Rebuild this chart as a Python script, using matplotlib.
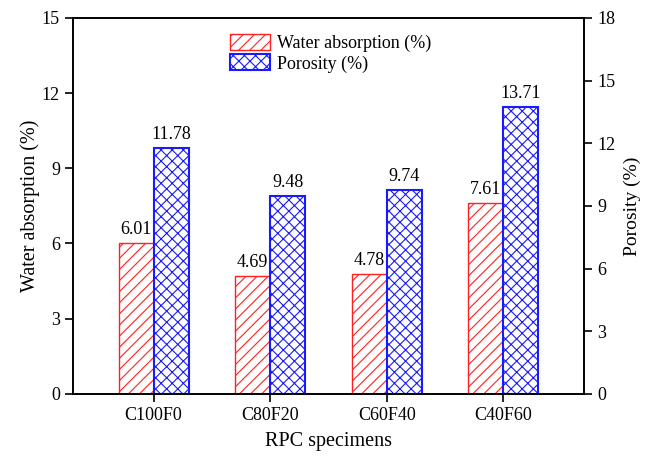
import matplotlib
matplotlib.use('Agg')
import matplotlib.pyplot as plt
import numpy as np

plt.rcParams['font.family'] = ['Liberation Serif', 'DejaVu Serif']
plt.rcParams['hatch.linewidth'] = 0.8

specimens = ['C100F0', 'C80F20', 'C60F40', 'C40F60']
water_absorption = [6.01, 4.69, 4.78, 7.61]
porosity = [11.78, 9.48, 9.74, 13.71]

x = np.arange(len(specimens))
width = 0.3

fig = plt.figure(figsize=(6.53, 4.57), dpi=100)
ax = fig.add_axes([0.112, 0.138, 0.782, 0.823])
ax2 = ax.twinx()

b1 = ax.bar(x - width / 2, water_absorption, width, facecolor='white',
            edgecolor='#ff2020', hatch='///', linewidth=1.0,
            label='Water absorption (%)')
b2 = ax2.bar(x + width / 2, porosity, width, facecolor='white',
             edgecolor='#1a1aff', hatch='xxx', linewidth=1.5,
             label='Porosity (%)')

for xi, v in zip(x, water_absorption):
    ax.text(xi - width / 2, v + 0.2, f'{v:.2f}', ha='center', va='bottom', fontsize=13)
for xi, v in zip(x, porosity):
    ax2.text(xi + width / 2, v + 0.24, f'{v:.2f}', ha='center', va='bottom', fontsize=13)

ax.set_xlim(-0.69, 3.69)
ax.set_ylim(0, 15)
ax2.set_ylim(0, 18)
ax.set_yticks(np.arange(0, 16, 3))
ax2.set_yticks(np.arange(0, 19, 3))
ax.set_xticks(x)
ax.set_xticklabels(specimens)

for a in (ax, ax2):
    a.tick_params(direction='out', length=6, width=1.2, labelsize=13)
    for s in a.spines.values():
        s.set_linewidth(1.2)

ax.set_xlabel('RPC specimens', fontsize=14.5, labelpad=6)
ax.set_ylabel('Water absorption (%)', fontsize=14.5, labelpad=1)
ax2.set_ylabel('Porosity (%)', fontsize=14, labelpad=6)

ax.legend([b1, b2], ['Water absorption (%)', 'Porosity (%)'], loc='upper left',
          bbox_to_anchor=(0.276, 1.0), frameon=False, fontsize=13,
          handlelength=2.2, handleheight=1.0, handletextpad=0.4,
          borderaxespad=0.5, labelspacing=0.1)

fig.savefig('out.png', dpi=100)
